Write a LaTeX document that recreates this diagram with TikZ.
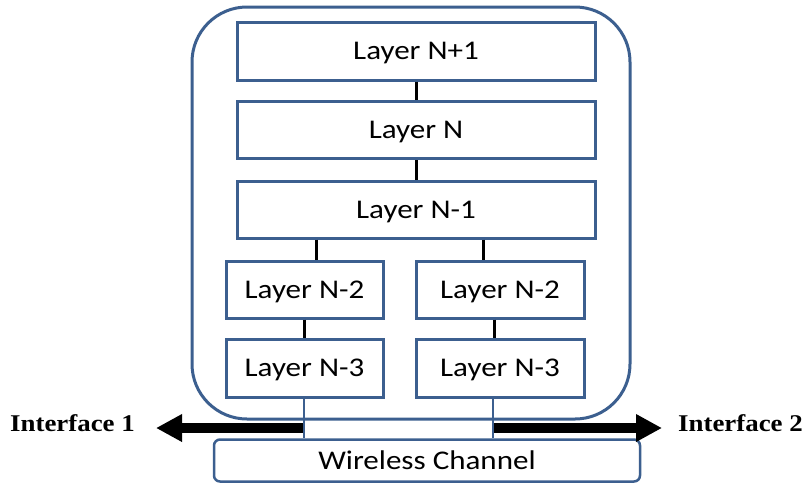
\documentclass[tikz,border=0pt]{standalone}
\usepackage{fontspec}
\setmainfont{Carlito}
\newfontfamily\layerfont[FakeStretch=1.15]{Carlito}
\newfontfamily\ifacefont[FakeStretch=1.12]{Liberation Serif}
\usetikzlibrary{arrows.meta}
\definecolor{boxblue}{HTML}{3C5F8F}
\tikzset{
  layerbox/.style={draw=boxblue, line width=3pt, fill=white, rectangle, inner sep=0pt, text depth=0pt,
    font=\layerfont\fontsize{27}{30}\selectfont},
  link/.style={draw=black, line width=3pt},
  blueline/.style={draw=boxblue, line width=2pt},
  bigarrow/.style={draw=black, line width=10pt, -{Triangle[length=26pt,width=26pt]}},
  iface/.style={font=\ifacefont\bfseries\fontsize{24}{28}\selectfont, inner sep=0pt}
}
\begin{document}
\begin{tikzpicture}[x=1pt,y=-1pt]
\useasboundingbox (0,0) rectangle (805,483);
% outer
\node[draw=boxblue, line width=3pt, rounded corners=55pt, minimum width=438pt, minimum height=412pt, inner sep=0pt] (outer) at (411,213) {};
% layers
\node[layerbox, minimum width=358pt, minimum height=58pt] (n1) at (416,51) {Layer N+1};
\node[layerbox, minimum width=358pt, minimum height=57pt] (n0) at (416,130) {Layer N};
\node[layerbox, minimum width=358pt, minimum height=57pt] (nm1) at (416,209.5) {Layer N-1};
\node[layerbox, minimum width=157pt, minimum height=57pt] (nm2l) at (304.5,289.5) {Layer N-2};
\node[layerbox, minimum width=168pt, minimum height=57pt] (nm2r) at (500,289.5) {Layer N-2};
\node[layerbox, minimum width=157pt, minimum height=58pt] (nm3l) at (304.5,368) {Layer N-3};
\node[layerbox, minimum width=168pt, minimum height=58pt] (nm3r) at (500,368) {Layer N-3};
% links
\draw[link] (n1.south) -- (n0.north);
\draw[link] (n0.south) -- (nm1.north);
\draw[link] (nm1.south -| 316,0) -- (nm2l.north -| 316,0);
\draw[link] (nm1.south -| 483,0) -- (nm2r.north -| 483,0);
\draw[link] (nm2l.south -| 304,0) -- (nm3l.north -| 304,0);
\draw[link] (nm2r.south -| 494,0) -- (nm3r.north -| 494,0);
% wireless channel
\node[draw=boxblue, line width=2.5pt, rounded corners=6pt, fill=white, minimum width=426pt, minimum height=42pt, inner sep=0pt, text depth=0pt,
  font=\layerfont\fontsize{27}{30}\selectfont] (wc) at (427,460.5) {Wireless Channel};
% arrows
\coordinate (la) at (304,428);
\coordinate (ltip) at (156,428);
\coordinate (ra) at (493,428);
\coordinate (rtip) at (662,428);
\draw[bigarrow] (la) -- (ltip);
\draw[bigarrow] (ra) -- (rtip);
% blue lines
\draw[blueline] (nm3l.south -| 304,0) -- (wc.north -| 304,0);
\draw[blueline] (nm3r.south -| 493,0) -- (wc.north -| 493,0);
% interface labels
\node[iface, anchor=west] (if1) at (10,423) {Interface 1};
\node[iface, anchor=east] (if2) at (803,423) {Interface 2};
\end{tikzpicture}
\end{document}
